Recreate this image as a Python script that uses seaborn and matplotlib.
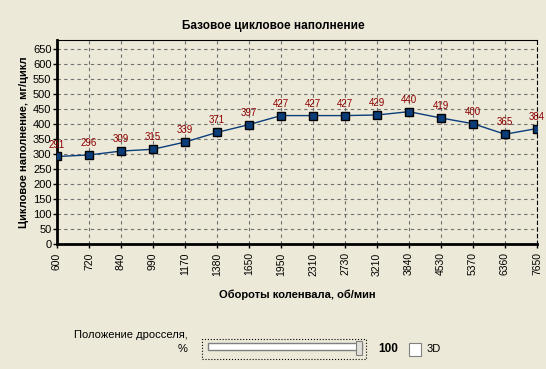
import matplotlib
matplotlib.use('Agg')
import matplotlib.pyplot as plt
import matplotlib.patches as mpatches
from matplotlib.ticker import AutoMinorLocator, MultipleLocator
import seaborn as sns
import pandas as pd

# Data
rpm = ['600', '720', '840', '990', '1170', '1380', '1650', '1950', '2310',
       '2730', '3210', '3840', '4530', '5370', '6360', '7650']
fill = [291, 296, 309, 315, 339, 371, 397, 427, 427, 427, 429, 440, 419, 400, 365, 384]
throttle = 100

bg = '#ECE9D8'
sns.set_style('white', rc={'text.color': 'black', 'axes.labelcolor': 'black',
                           'xtick.color': 'black', 'ytick.color': 'black'})
plt.rcParams['font.family'] = ['Liberation Sans', 'DejaVu Sans']

df = pd.DataFrame({'pos': range(len(rpm)), 'fill': fill})

fig = plt.figure(figsize=(5.46, 3.69), dpi=100, facecolor=bg)
ax = fig.add_axes([57 / 546, 1 - 244 / 369, 480 / 546, 204.5 / 369])
ax.set_facecolor(bg)

sns.lineplot(data=df, x='pos', y='fill', ax=ax, color='#0A3D7A', lw=1.0,
             marker='s', markersize=6, markerfacecolor='#0A3D7A',
             markeredgecolor='black', markeredgewidth=1.0, zorder=3)

for i, v in enumerate(fill):
    ax.annotate(str(v), (i, v), xytext=(0, 5), textcoords='offset points',
                ha='center', va='bottom', fontsize=7, color='#8B0000')

ax.set_xlim(0, len(rpm) - 1)
ax.set_ylim(0, 680)
ax.yaxis.set_major_locator(MultipleLocator(50))
ax.set_xticks(range(len(rpm)))
ax.set_xticklabels(rpm, rotation=90, fontsize=7.5)
ax.tick_params(axis='y', labelsize=8, length=3, width=1, direction='out', pad=1)
ax.tick_params(axis='x', length=3, width=1, direction='out', pad=3)
ax.xaxis.set_minor_locator(AutoMinorLocator(5))
ax.tick_params(axis='x', which='minor', length=2, width=0.8, direction='out')
ax.tick_params(left=True, bottom=True)

ax.grid(True, which='major', color='#707070', linestyle=(0, (3, 3)), linewidth=0.8)
for side in ['left', 'bottom']:
    ax.spines[side].set_linewidth(2)
    ax.spines[side].set_color('black')
for side in ['top', 'right']:
    ax.spines[side].set_linewidth(0.8)
    ax.spines[side].set_color('black')
ax.spines['right'].set_linestyle((0, (3, 3)))

ax.set_xlabel('Обороты коленвала, об/мин', fontsize=8, fontweight='bold', labelpad=10)
ax.set_ylabel('Цикловое наполнение, мг/цикл', fontsize=8, fontweight='bold', labelpad=3)


def px(x, y):
    return x / 546, 1 - y / 369


# title is centred on the whole window, not the axes
fig.text(*px(273, 26), 'Базовое цикловое наполнение', ha='center', va='center',
         fontsize=8.5, fontweight='bold')

# throttle slider widget
fig.text(*px(188, 335), 'Положение дросселя,', ha='right', va='center', fontsize=8)
fig.text(*px(188, 349), '%', ha='right', va='center', fontsize=8)
x0, y0 = px(202, 359)
fig.patches.append(mpatches.Rectangle((x0, y0), 164 / 546, 20 / 369, transform=fig.transFigure,
                                      fill=False, edgecolor='black', linestyle=':', lw=0.8))
x0, y0 = px(208, 350)
fig.patches.append(mpatches.Rectangle((x0, y0), 154 / 546, 7 / 369, transform=fig.transFigure,
                                      facecolor='white', edgecolor='#808080', lw=1))
x0, y0 = px(356, 355)
fig.patches.append(mpatches.Rectangle((x0, y0), 6 / 546, 14 / 369, transform=fig.transFigure,
                                      facecolor='#E0DFD8', edgecolor='#808080', lw=0.8))
fig.text(*px(388, 349), str(throttle), ha='center', va='center', fontsize=8.5, fontweight='bold')
x0, y0 = px(409, 356)
fig.patches.append(mpatches.Rectangle((x0, y0), 12 / 546, 13 / 369, transform=fig.transFigure,
                                      facecolor='white', edgecolor='#808080', lw=0.8))
fig.text(*px(427, 349), '3D', ha='left', va='center', fontsize=8)

fig.savefig('out.png', dpi=100, facecolor=bg)
